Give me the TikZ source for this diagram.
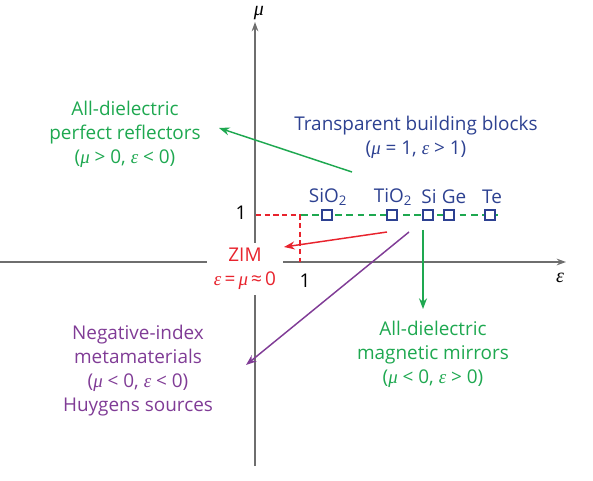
\documentclass[tikz,border=0pt]{standalone}
\usepackage{fontspec}
\setmainfont{Open Sans}
\newfontfamily\grkfont{Liberation Serif}
\newcommand\gmu{{\grkfont\itshape μ}}
\newcommand\geps{{\grkfont\itshape ε}}
\usetikzlibrary{arrows.meta}
\definecolor{cgreen}{RGB}{30,168,80}
\definecolor{cblue}{RGB}{45,65,145}
\definecolor{cred}{RGB}{232,35,45}
\definecolor{cpurple}{RGB}{128,60,150}
\definecolor{caxis}{RGB}{110,110,110}
\begin{document}
\begin{tikzpicture}[x=0.75pt,y=-0.75pt,
  lbl/.style={font=\fontsize{14.2}{18}\selectfont, align=center, inner sep=0pt},
  axisline/.style={draw=caxis, line width=1.1pt},
  sq/.style={draw=cblue, line width=0.9pt, minimum size=7.5pt, inner sep=0pt},
  arr/.style={line width=1.1pt, -{Stealth[length=8pt,width=6pt]}}]
\useasboundingbox (0,0) rectangle (593,481);
% axes
\coordinate (xl) at (0,262);
\coordinate (xr) at (566,262);
\coordinate (yb) at (255,466);
\coordinate (yt) at (255,22);
\draw[axisline, -{Stealth[length=7pt,width=5pt]}] (xl) -- (xr);
\draw[axisline, -{Stealth[length=7pt,width=5pt]}] (yb) -- (yt);
\node[lbl, font=\fontsize{15}{16}\selectfont] (mu) at (259,13) {\gmu};
\node[lbl, font=\fontsize{15}{16}\selectfont] (eps) at (560,278) {\geps};
% unit marks
\coordinate (c1) at (300,215);
\coordinate (cy) at (256,215);
\coordinate (cx) at (300,262);
\draw[cred, line width=1pt, dash pattern=on 4pt off 2.5pt] (cy) -- (c1) -- (cx);
\node[lbl] (one1) at (241,213) {1};
\node[lbl] (one2) at (305,281) {1};
% green dashed line
\coordinate (gs) at (301,215);
\coordinate (ge) at (498,215);
\draw[cgreen, line width=1.1pt, dash pattern=on 5pt off 3.5pt] (gs) -- (ge);
\draw[cgreen, line width=2pt] (494,215) -- (ge);
% squares
\node[sq, fill=white] (s1) at (327,215) {};
\node[sq, fill=white] (s2) at (392,215) {};
\node[sq, fill=white] (s3) at (428,215) {};
\node[sq, fill=white] (s4) at (449,215) {};
\node[sq, fill=white] (s5) at (490,215) {};
\node[lbl, text=cblue] (l1) at (328,197) {SiO\textsubscript{2}};
\node[lbl, text=cblue] (l2) at (393,197) {TiO\textsubscript{2}};
\node[lbl, text=cblue] (l3) at (429,197) {Si};
\node[lbl, text=cblue] (l4) at (454,197) {Ge};
\node[lbl, text=cblue] (l5) at (492,197) {Te};
% texts
\node[lbl, text=cblue] (tb) at (416,137) {Transparent building blocks\\(\gmu\ = 1, \geps\ > 1)};
\node[lbl, text=cgreen] (pr) at (125,134) {All-dielectric\\perfect reflectors\\(\gmu\ > 0, \geps\ < 0)};
\node[lbl, text=cred, fill=white, inner xsep=5pt, inner ysep=4pt] (zim) at (245,269) {ZIM\\\geps\,=\,\gmu\,≈\,0};
\node[lbl, text=cpurple] (ni) at (138,371) {Negative-index\\metamaterials\\(\gmu\ < 0, \geps\ < 0)\\Huygens sources};
\node[lbl, text=cgreen] (mm) at (433,354) {All-dielectric\\magnetic mirrors\\(\gmu\ < 0, \geps\ > 0)};
% arrows
\coordinate (ga1) at (352,172);
\coordinate (ga2) at (219,128);
\draw[arr, cgreen] (ga1) -- (ga2);
\coordinate (ra1) at (387,232);
\coordinate (ra2) at (284,247);
\draw[arr, cred] (ra1) -- (ra2);
\coordinate (pa1) at (409,232);
\coordinate (pa2) at (246,365);
\draw[arr, cpurple] (pa1) -- (pa2);
\coordinate (va1) at (423,230);
\coordinate (va2) at (423,309);
\draw[arr, cgreen] (va1) -- (va2);
\end{tikzpicture}
\end{document}
